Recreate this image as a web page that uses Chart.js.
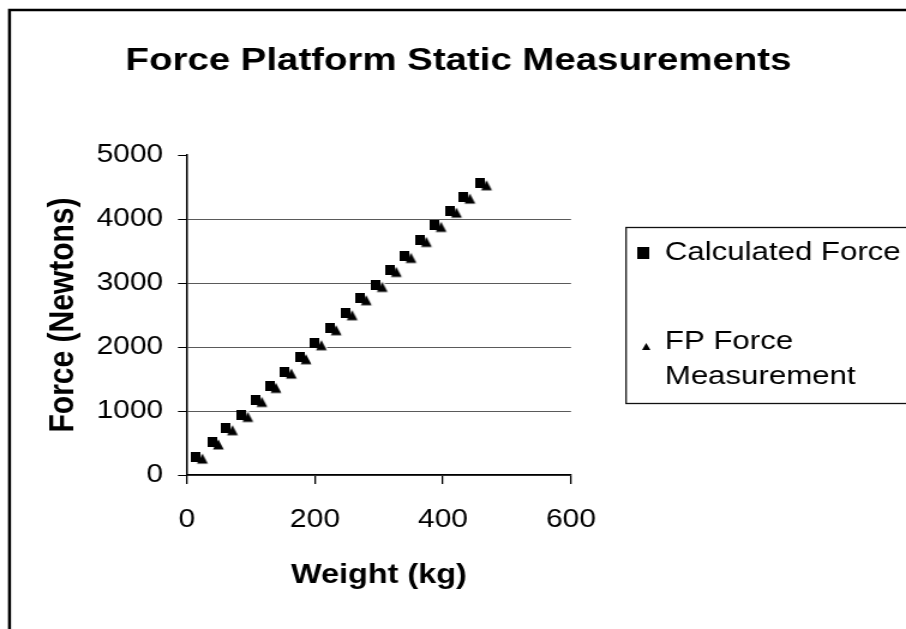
<!DOCTYPE html>
<html>
<head>
<meta charset="utf-8">
<title>Force Platform Static Measurements</title>
<script src="https://cdn.jsdelivr.net/npm/chart.js@4.4.1/dist/chart.umd.min.js"></script>
<style>
    html, body { margin: 0; padding: 0; background: #fff; overflow: hidden; }
    /* the original scan is stretched sideways, so the chart is too */
    #force-chart { display: block; transform: scaleX(1.2); transform-origin: 0 0; }
</style>
</head>
<body>
<canvas id="force-chart" width="755" height="629"></canvas>
<script>
// Data
const chartTitle = 'Force Platform Static Measurements';
const xAxisTitle = 'Weight (kg)';
const yAxisTitle = 'Force (Newtons)';
const seriesNames = ['Calculated Force', 'FP Force Measurement'];
const legendLines = [['Calculated Force'], ['FP Force', 'Measurement']];

const calcWeight = [14, 39, 61, 85, 107, 129, 153, 176, 200, 223, 248, 270, 295, 317, 340, 364, 387, 411, 432, 458];
const calcForce = [286, 508, 730, 938, 1172, 1391, 1614, 1839, 2058, 2292, 2527, 2761, 2969, 3203, 3422, 3672, 3906, 4129, 4349, 4557];
const fpWeight = [24, 49, 71, 95, 117, 139, 163, 186, 210, 233, 258, 280, 305, 327, 350, 374, 397, 421, 442, 468];
const fpForce = [256, 478, 700, 908, 1142, 1361, 1584, 1809, 2028, 2262, 2497, 2731, 2939, 3173, 3392, 3642, 3876, 4099, 4319, 4527];

const xTicks = [0, 200, 400, 600];
const yTicks = [0, 1000, 2000, 3000, 4000, 5000];

const FONT = "'Liberation Sans', Arial, sans-serif";

// Marker images (drawn narrower to undo the sideways stretch)
function squareMarker(w, h) {
    const c = document.createElement('canvas');
    c.width = w; c.height = h;
    const g = c.getContext('2d');
    g.fillStyle = '#000';
    g.fillRect(0, 0, w, h);
    return c;
}

function triangleMarker(w, h, outline) {
    const c = document.createElement('canvas');
    c.width = w; c.height = h;
    const g = c.getContext('2d');
    const p = outline ? 1.5 : 0;
    g.beginPath();
    g.moveTo(w / 2, p);
    g.lineTo(w - p, h - p);
    g.lineTo(p, h - p);
    g.closePath();
    if (outline) {
        // white rim, then the black body on top
        g.strokeStyle = '#fff';
        g.lineWidth = 2.6;
        g.lineJoin = 'round';
        g.stroke();
    }
    g.fillStyle = '#000';
    g.fill();
    return c;
}

const squareImg = squareMarker(8, 10);
const triangleImg = triangleMarker(12, 13, true);
const legendSquare = squareMarker(10, 12);
const legendTriangle = triangleMarker(7, 7, false);

function toPoints(xs, ys) {
    return xs.map((x, i) => ({ x: x, y: ys[i] }));
}

// Outer frame and the boxed legend
const framePlugin = {
    id: 'frameAndLegend',
    beforeDraw(chart) {
        const ctx = chart.ctx;
        ctx.save();
        ctx.fillStyle = '#fff';
        ctx.fillRect(0, 0, chart.width, chart.height);
        ctx.strokeStyle = '#000';
        ctx.lineWidth = 2.5;
        ctx.strokeRect(7.9, 10, 820, 700);
        ctx.restore();
    },
    afterDraw(chart) {
        const ctx = chart.ctx;
        ctx.save();
        ctx.strokeStyle = '#111';
        ctx.lineWidth = 1.3;
        ctx.strokeRect(521.7, 227.5, 260, 176);

        ctx.drawImage(legendSquare, 536 - 5, 253 - 6);
        ctx.drawImage(legendTriangle, 538.5 - 3.5, 346.5 - 3.5);

        ctx.fillStyle = '#000';
        ctx.font = '26px ' + FONT;
        ctx.textBaseline = 'middle';
        ctx.textAlign = 'left';
        ctx.fillText(legendLines[0][0], 554, 253);
        ctx.fillText(legendLines[1][0], 554, 342);
        ctx.fillText(legendLines[1][1], 554, 377);
        ctx.restore();
    }
};

const ctx = document.getElementById('force-chart').getContext('2d');
const forceChart = new Chart(ctx, {
    type: 'scatter',
    data: {
        datasets: [{
            label: seriesNames[0],
            data: toPoints(calcWeight, calcForce),
            pointStyle: squareImg,
            backgroundColor: '#000',
            borderColor: '#000'
        }, {
            label: seriesNames[1],
            data: toPoints(fpWeight, fpForce),
            pointStyle: triangleImg,
            backgroundColor: '#000',
            borderColor: '#000'
        }]
    },
    options: {
        responsive: false,
        animation: false,
        events: [],
        layout: { padding: { left: 9, right: 0, top: 0, bottom: 0 } },
        plugins: {
            legend: { display: false },
            tooltip: { enabled: false },
            title: {
                display: true,
                text: chartTitle,
                color: '#000',
                font: { family: FONT, size: 32, weight: 'bold' },
                padding: { top: 41.8, bottom: 74.8 }
            }
        },
        scales: {
            x: {
                type: 'linear',
                min: 0,
                max: 600,
                afterFit: s => { s.height = 154; },
                afterBuildTicks: s => { s.ticks = xTicks.map(v => ({ value: v })); },
                grid: { drawOnChartArea: false, drawTicks: true, tickLength: 9, tickColor: '#000', lineWidth: 1.3 },
                border: { color: '#000', width: 1.5 },
                ticks: { color: '#000', padding: 21, font: { family: FONT, size: 25 }, callback: v => String(v) },
                title: {
                    display: true,
                    text: xAxisTitle,
                    color: '#000',
                    font: { family: FONT, size: 27, weight: 'bold' },
                    padding: { top: 0, bottom: 37 }
                }
            },
            y: {
                type: 'linear',
                min: 0,
                max: 5000,
                afterFit: s => { s.width = 146.8; },
                afterBuildTicks: s => { s.ticks = yTicks.map(v => ({ value: v })); },
                grid: {
                    color: c => (c.tick && c.tick.value === 5000) ? 'rgba(0,0,0,0)' : '#5a5a5a',
                    lineWidth: 1,
                    tickLength: 7.5,
                    tickColor: '#000'
                },
                border: { color: '#000', width: 1.5 },
                ticks: { color: '#000', padding: 12.3, font: { family: FONT, size: 25 }, callback: v => String(v) },
                title: {
                    display: true,
                    text: yAxisTitle,
                    color: '#000',
                    font: { family: FONT, size: 30, weight: 'bold' },
                    padding: { top: 25.5, bottom: 0 }
                }
            },
            // empty axis that keeps room on the right for the legend box
            spacer: {
                type: 'linear',
                position: 'right',
                afterFit: s => { s.width = 279.2; },
                grid: { display: false },
                border: { display: false },
                ticks: { display: false }
            }
        }
    },
    plugins: [framePlugin]
});
</script>
</body>
</html>
